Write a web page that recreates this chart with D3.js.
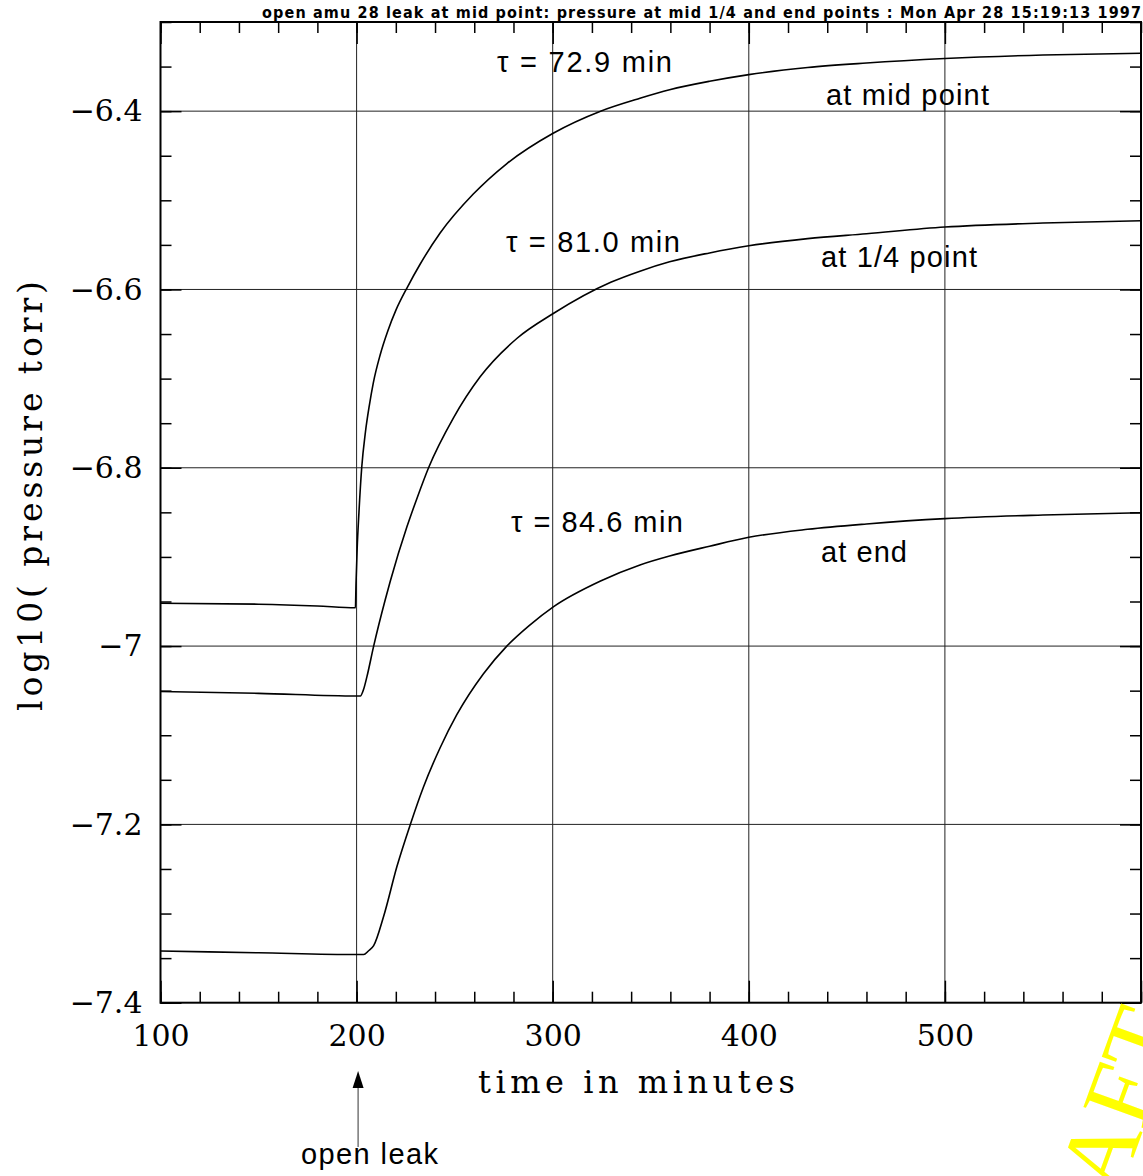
<!DOCTYPE html>
<html>
<head>
<meta charset="utf-8">
<script src="https://cdn.jsdelivr.net/npm/d3@7"></script>
<style>
  body { margin: 0; background: #fff; }
  svg { display: block; }
</style>
</head>
<body>
<div id="chart"></div>
<script>
// curves: [time in minutes, log10 pressure]
var midPoint = [[100,-6.952],[150,-6.953],[180,-6.955],[199.4,-6.957],[199.7,-6.93],[200.3,-6.89],[201.2,-6.85],
  [202.6,-6.80],[204.5,-6.760],[206.5,-6.730],[208.5,-6.705],[212,-6.6735],[216,-6.646],[220,-6.6235],[226,-6.597],
  [232.3,-6.572],[242.5,-6.537],[259.5,-6.493],[276.5,-6.459],[300,-6.425],[324.4,-6.400],[344.5,-6.3855],
  [359.6,-6.376],[380,-6.3665],[400,-6.359],[430,-6.351],[460,-6.346],[500,-6.341],[550,-6.337],[600,-6.335]];
var quarterPoint = [[100,-7.051],[150,-7.053],[200,-7.056],[201.9,-7.056],[203.5,-7.049],[205.3,-7.034],
  [208.7,-7.000],[214.6,-6.948],[217.2,-6.927],[225.7,-6.866],[231,-6.833],[236.7,-6.800],[249.4,-6.744],
  [263,-6.698],[281.7,-6.655],[300.3,-6.627],[329.6,-6.592],[344.5,-6.5795],[359.6,-6.569],[380,-6.559],
  [400,-6.551],[430,-6.543],[460,-6.5375],[500,-6.530],[550,-6.5255],[600,-6.523]];
var endPoint = [[100,-7.342],[150,-7.344],[200,-7.346],[203.6,-7.346],[206,-7.342],[208.7,-7.336],
  [213.8,-7.303],[220.6,-7.247],[227.4,-7.200],[234.1,-7.158],[242.6,-7.114],[251.1,-7.077],[264.7,-7.031],
  [276.6,-7.000],[288,-6.977],[300.3,-6.956],[324.4,-6.927],[344.5,-6.909],[359.6,-6.899],[380,-6.888],
  [400,-6.878],[430,-6.869],[460,-6.863],[500,-6.857],[550,-6.853],[600,-6.8505]];

var xLabels = [100, 200, 300, 400, 500];
var yLabels = [-7.4, -7.2, -7, -6.8, -6.6, -6.4];
var xGrid = [200, 300, 400, 500];
var yGrid = [-7.2, -7, -6.8, -6.6, -6.4];

var title = "open amu 28 leak at mid point: pressure at mid 1/4 and end points : Mon Apr 28 15:19:13 1997";

var width = 1143, height = 1176;
var plot = { left: 160.5, right: 1141, top: 22, bottom: 1002.7 };

var x = d3.scaleLinear().domain([100, 600]).range([plot.left, plot.right]);
var y = d3.scaleLinear().domain([-7.4, -6.3]).range([plot.bottom, plot.top]);

var svg = d3.select("#chart").append("svg")
    .attr("width", width)
    .attr("height", height);

// grid
svg.append("g").selectAll("line")
    .data(xGrid)
    .enter().append("line")
    .attr("x1", function (d) { return x(d); })
    .attr("x2", function (d) { return x(d); })
    .attr("y1", plot.top)
    .attr("y2", plot.bottom)
    .attr("stroke", "#222")
    .attr("stroke-width", 1);

svg.append("g").selectAll("line")
    .data(yGrid)
    .enter().append("line")
    .attr("x1", plot.left)
    .attr("x2", plot.right)
    .attr("y1", function (d) { return y(d); })
    .attr("y2", function (d) { return y(d); })
    .attr("stroke", "#222")
    .attr("stroke-width", 1);

// ticks on all four sides, pointing inward
function fmtY(d) { return d3.format(".1~f")(d).replace("-", "\u2212"); }

function addAxis(axis, tx, ty) {
    var g = svg.append("g")
        .attr("transform", "translate(" + tx + "," + ty + ")")
        .call(axis);
    g.select(".domain").remove();
    g.selectAll(".tick line").attr("stroke", "#000").attr("stroke-width", 1.5);
    g.selectAll("text")
        .attr("font-family", "DejaVu Serif")
        .attr("font-size", 30)
        .attr("fill", "#000");
    return g;
}

var xMinor = d3.range(100, 601, 20);
var yMinor = d3.range(0, 23).map(function (i) { return -7.4 + i * 0.05; });

addAxis(d3.axisBottom(x).tickValues(xLabels.concat([600])).tickSize(-22).tickPadding(22)
    .tickFormat(function (d) { return d < 600 ? d : ""; }), 0, plot.bottom);
addAxis(d3.axisBottom(x).tickValues(xMinor).tickSize(-11).tickFormat(""), 0, plot.bottom);
addAxis(d3.axisTop(x).tickValues(xLabels).tickSize(-22).tickFormat(""), 0, plot.top);
addAxis(d3.axisTop(x).tickValues(xMinor).tickSize(-11).tickFormat(""), 0, plot.top);

addAxis(d3.axisLeft(y).tickValues(yLabels).tickSize(-21).tickPadding(18).tickFormat(fmtY), plot.left, 0);
addAxis(d3.axisLeft(y).tickValues(yMinor).tickSize(-11).tickFormat(""), plot.left, 0);
addAxis(d3.axisRight(y).tickValues(yLabels).tickSize(-21).tickFormat(""), plot.right, 0);
addAxis(d3.axisRight(y).tickValues(yMinor).tickSize(-11).tickFormat(""), plot.right, 0);

// frame
svg.append("rect")
    .attr("x", plot.left)
    .attr("y", plot.top)
    .attr("width", plot.right - plot.left)
    .attr("height", plot.bottom - plot.top)
    .attr("fill", "none")
    .attr("stroke", "#000")
    .attr("stroke-width", 2);

// curves
var line = d3.line()
    .x(function (d) { return x(d[0]); })
    .y(function (d) { return y(d[1]); })
    .curve(d3.curveMonotoneX);

[midPoint, quarterPoint, endPoint].forEach(function (s) {
    svg.append("path")
        .datum(s)
        .attr("d", line)
        .attr("fill", "none")
        .attr("stroke", "#000")
        .attr("stroke-width", 1.6);
});

// annotations
var notes = [
    { t: "\u03c4 = 72.9 min", x: 497, y: 72, w: 175 },
    { t: "\u03c4 = 81.0 min", x: 506, y: 252, w: 174 },
    { t: "\u03c4 = 84.6 min", x: 511, y: 532, w: 172 },
    { t: "at mid point", x: 826, y: 105, w: 163 },
    { t: "at 1/4 point", x: 821, y: 267, w: 156 },
    { t: "at end", x: 821, y: 562, w: 86 },
    { t: "open leak", x: 301, y: 1164, w: 137 }
];
svg.append("g").selectAll("text")
    .data(notes)
    .enter().append("text")
    .attr("x", function (d) { return d.x; })
    .attr("y", function (d) { return d.y; })
    .attr("textLength", function (d) { return d.w; })
    .attr("lengthAdjust", "spacing")
    .attr("font-family", "Liberation Sans, Arial, sans-serif")
    .attr("font-size", 29)
    .attr("fill", "#000")
    .text(function (d) { return d.t; });

// arrow for the leak opening
svg.append("line")
    .attr("x1", x(200) + 1.5).attr("x2", x(200) + 1.5)
    .attr("y1", 1147).attr("y2", 1086)
    .attr("stroke", "#555").attr("stroke-width", 1.2);
svg.append("path")
    .attr("d", "M" + (x(200) + 1.5) + ",1071 l-5.5,17 l11,0 z")
    .attr("fill", "#000");

// axis titles
svg.append("text")
    .attr("x", 478)
    .attr("y", 1093)
    .attr("textLength", 317)
    .attr("lengthAdjust", "spacing")
    .attr("font-family", "DejaVu Serif")
    .attr("font-size", 32)
    .text("time in minutes");

svg.append("text")
    .attr("transform", "translate(42,711) rotate(-90)")
    .attr("textLength", 430)
    .attr("lengthAdjust", "spacing")
    .attr("font-family", "DejaVu Serif")
    .attr("font-size", 33)
    .text("log10( pressure torr)");

svg.append("text")
    .attr("x", 262)
    .attr("y", 18)
    .attr("textLength", 879)
    .attr("lengthAdjust", "spacing")
    .attr("font-family", "DejaVu Sans Condensed, DejaVu Sans")
    .attr("font-size", 16)
    .attr("font-weight", "bold")
    .text(title);

// draft stamp, mostly off the page
svg.append("text")
    .attr("transform", "translate(1072,1326) rotate(-70)")
    .attr("font-family", "Liberation Serif, serif")
    .attr("font-size", 98)
    .attr("fill", "#ffff00")
    .text("DRAFT");
</script>
</body>
</html>
